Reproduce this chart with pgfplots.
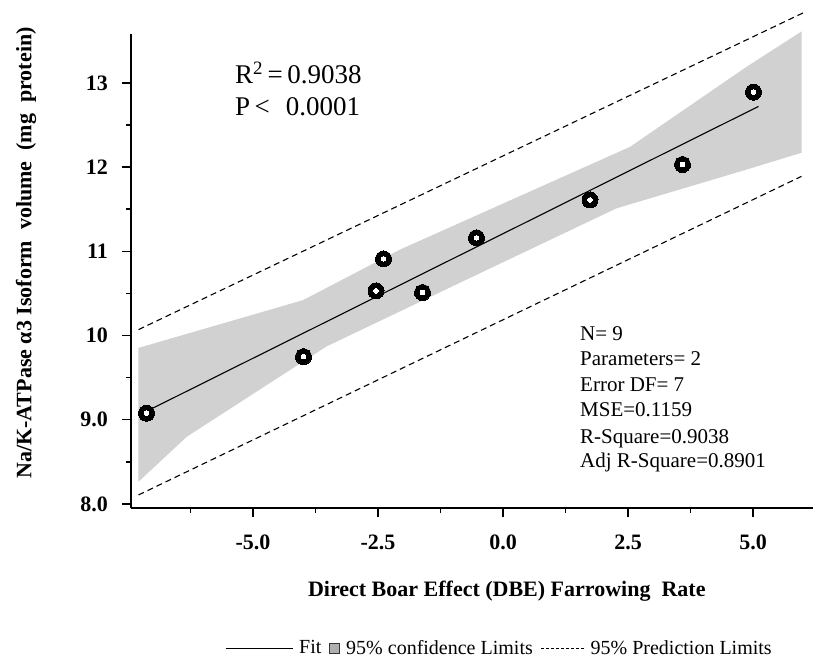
\documentclass[border=0pt]{standalone}
\usepackage{fontspec}
\setmainfont{Liberation Serif}
\usepackage{pgfplots}
\pgfplotsset{compat=1.18}
\definecolor{bandgray}{RGB}{209,209,209}
\definecolor{legsq}{RGB}{175,175,175}
\pgfplotstableread{
x y
-7.13 9.077
-3.99 9.749
-2.54 10.53
-2.39 10.91
-1.61 10.51
-0.53 11.16
1.74 11.61
3.59 12.03
5.01 12.89
}\pointsdata
\pgfplotstableread{
x y
-7.29 9.853
-4.00 10.42
-2.06 11.02
2.54 12.24
4.87 13.19
5.97 13.61
5.97 12.17
4.87 11.97
2.27 11.51
-0.46 10.74
-3.53 9.87
-6.32 8.80
-7.29 8.265
}\banddata
\begin{document}
\begin{tikzpicture}
\begin{axis}[
  scale only axis, width=682pt, height=474pt,
  xmin=-7.44, xmax=6.2, ymin=7.952, ymax=13.58,
  axis lines=left, axis line style={-, line width=1.6pt},
  xtick={-5,-2.5,0,2.5,5}, xticklabels={-5.0,-2.5,0.0,2.5,5.0},
  ytick={8,9,10,11,12,13}, yticklabels={8.0,9.0,10,11,12,13},
  minor xtick={-6.25,-3.75,-1.25,1.25,3.75},
  minor ytick={8.5,9.5,10.5,11.5,12.5},
  tick align=outside, major tick length=9pt, minor tick length=5pt,
  every tick/.style={black, line width=1.4pt},
  ticklabel style={font=\fontsize{22}{26}\selectfont\bfseries},
  xticklabel style={anchor=north, inner sep=0pt, yshift=-18pt},
  yticklabel style={anchor=east, inner sep=0pt, xshift=-14pt},
  xlabel={Direct Boar Effect (DBE) Farrowing\ \ Rate},
  xlabel style={font=\fontsize{22}{26}\selectfont\bfseries, at={(rel axis cs:0.551,-0.175)}, anchor=center},
  ylabel={Na/K-ATPase α3 Isoform\ \ volume\ \ (mg\ \ protein)},
  ylabel style={font=\fontsize{22}{26}\selectfont\bfseries, at={(rel axis cs:-0.154,0.538)}, anchor=center, rotate=0},
  legend columns=3,
  legend style={draw=none, fill=none, at={(0.541,-0.2954)}, anchor=center,
    font=\fontsize{20}{24}\selectfont, nodes={inner sep=3pt},
    /tikz/every odd column/.append style={column sep=3pt},
    /tikz/every even column/.append style={column sep=5pt}},
  clip=false,
]
\addplot[fill=bandgray, draw=none, forget plot] table {\banddata} -- cycle;
\addplot[black, line width=1.1pt, dash pattern=on 6pt off 4pt, forget plot] coordinates {(-7.29,10.07) (6.0,13.83)};
\addplot[black, line width=1.1pt, dash pattern=on 6pt off 4pt, forget plot] coordinates {(-7.29,8.107) (5.97,11.89)};
\addplot[black, line width=1.1pt, forget plot] coordinates {(-7.13,9.10) (5.11,12.72)};
\addplot[only marks, mark=*, mark size=8pt, mark options={fill=black, draw=black, line width=0pt}, forget plot] table {\pointsdata};
\addplot[only marks, mark=*, mark size=2.3pt, mark options={fill=white, draw=white, line width=0pt}, forget plot] table {\pointsdata};

\addlegendimage{legend image code/.code={\draw[black, line width=1pt] (0pt,0pt) -- (67pt,0pt);}}
\addlegendentry{Fit}
\addlegendimage{legend image code/.code={\draw[fill=legsq, draw=black!80, line width=0.8pt] (0pt,-5pt) rectangle (10pt,5pt);}}
\addlegendentry{95\% confidence Limits}
\addlegendimage{legend image code/.code={\draw[black, line width=0.8pt, dash pattern=on 3pt off 2pt] (0pt,0pt) -- (43pt,0pt);}}
\addlegendentry{95\% Prediction Limits}

\node[anchor=base west, inner sep=0pt, font=\fontsize{27}{30}\selectfont] at (axis cs:-5.36,12.988) {R\textsuperscript{2}\,=\,0.9038};
\node[anchor=base west, inner sep=0pt, font=\fontsize{27}{30}\selectfont] at (axis cs:-5.36,12.608) {P\,<\hspace{16pt}0.0001};

\node[anchor=base west, inner sep=0pt, font=\fontsize{21}{25}\selectfont] at (axis cs:1.54,9.936) {N= 9};
\node[anchor=base west, inner sep=0pt, font=\fontsize{21}{25}\selectfont] at (axis cs:1.54,9.639) {Parameters= 2};
\node[anchor=base west, inner sep=0pt, font=\fontsize{21}{25}\selectfont] at (axis cs:1.54,9.330) {Error DF= 7};
\node[anchor=base west, inner sep=0pt, font=\fontsize{21}{25}\selectfont] at (axis cs:1.54,9.033) {MSE=0.1159};
\node[anchor=base west, inner sep=0pt, font=\fontsize{21}{25}\selectfont] at (axis cs:1.54,8.713) {R-Square=0.9038};
\node[anchor=base west, inner sep=0pt, font=\fontsize{21}{25}\selectfont] at (axis cs:1.54,8.427) {Adj R-Square=0.8901};

\coordinate (bbSW) at (rel axis cs:0,0);
\coordinate (bbNE) at (rel axis cs:1,1);
\end{axis}
\pgfresetboundingbox
\path ([xshift=-131pt,yshift=-150pt]bbSW) rectangle ([yshift=34pt]bbNE);
\end{tikzpicture}
\end{document}
